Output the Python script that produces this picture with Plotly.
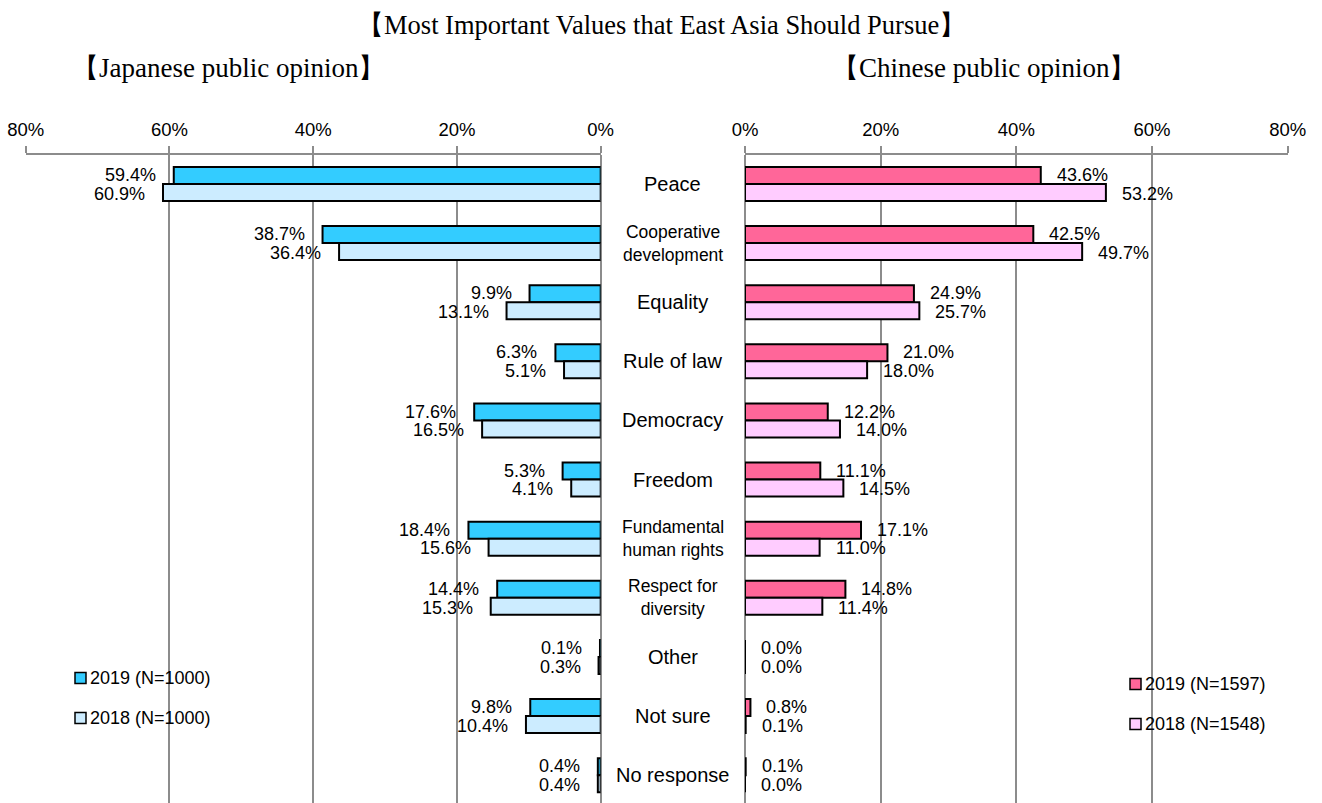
import plotly.graph_objects as go

W, H = 1322, 803

categories = ["Peace", "Cooperative<br>development", "Equality", "Rule of law",
              "Democracy", "Freedom", "Fundamental<br>human rights",
              "Respect for<br>diversity", "Other", "Not sure", "No response"]

japan_2019 = [59.4, 38.7, 9.9, 6.3, 17.6, 5.3, 18.4, 14.4, 0.1, 9.8, 0.4]
japan_2018 = [60.9, 36.4, 13.1, 5.1, 16.5, 4.1, 15.6, 15.3, 0.3, 10.4, 0.4]
china_2019 = [43.6, 42.5, 24.9, 21.0, 12.2, 11.1, 17.1, 14.8, 0.0, 0.8, 0.1]
china_2018 = [53.2, 49.7, 25.7, 18.0, 14.0, 14.5, 11.0, 11.4, 0.0, 0.1, 0.0]

tick_vals = [0, 20, 40, 60, 80]
tick_text = ["0%", "20%", "40%", "60%", "80%"]

legend_japan = ["2019 (N=1000)", "2018 (N=1000)"]
legend_china = ["2019 (N=1597)", "2018 (N=1548)"]

title_text = "【Most Important Values that East Asia Should Pursue】"
sub_japan = "【Japanese public opinion】"
sub_china = "【Chinese public opinion】"

C_JP19, C_JP18 = "#33CCFF", "#CCECFF"
C_CN19, C_CN18 = "#FF6699", "#FFCCFF"
GRID = "#8c8c8c"
SANS = "Liberation Sans, Arial, sans-serif"
SERIF = "Liberation Serif, Times New Roman, serif"

idx = list(range(len(categories)))

fig = go.Figure()
bar_line = dict(color="black", width=2)
fig.add_trace(go.Bar(y=idx, x=japan_2019, orientation="h", marker=dict(color=C_JP19, line=bar_line),
                     xaxis="x", yaxis="y", showlegend=False, hoverinfo="skip"))
fig.add_trace(go.Bar(y=idx, x=japan_2018, orientation="h", marker=dict(color=C_JP18, line=bar_line),
                     xaxis="x", yaxis="y", showlegend=False, hoverinfo="skip"))
fig.add_trace(go.Bar(y=idx, x=china_2019, orientation="h", marker=dict(color=C_CN19, line=bar_line),
                     xaxis="x2", yaxis="y2", showlegend=False, hoverinfo="skip"))
fig.add_trace(go.Bar(y=idx, x=china_2018, orientation="h", marker=dict(color=C_CN18, line=bar_line),
                     xaxis="x2", yaxis="y2", showlegend=False, hoverinfo="skip"))

axis_top = 155
y_top_frac = 1 - axis_top / H

x_common = dict(side="top", tickmode="array", tickvals=tick_vals, ticktext=tick_text,
                ticks="outside", ticklen=7, tickwidth=2, tickcolor=GRID,
                showline=True, linecolor=GRID, linewidth=2,
                showgrid=True, gridcolor=GRID, gridwidth=2,
                zeroline=True, zerolinecolor=GRID, zerolinewidth=2,
                automargin=False, ticklabelstandoff=3,
                tickfont=dict(family=SANS, size=18.5, color="black"), fixedrange=True)

y_common = dict(range=[10.47, -0.49], showticklabels=False, showgrid=False, zeroline=False,
                showline=False, ticks="", domain=[0, y_top_frac], automargin=False,
                fixedrange=True)

fig.update_layout(
    template="none",
    width=W, height=H, margin=dict(l=0, r=0, t=0, b=0, pad=0, autoexpand=False),
    paper_bgcolor="white", plot_bgcolor="white",
    barmode="group", bargap=0.424, bargroupgap=0,
    font=dict(family=SANS, size=18, color="black"),
    xaxis=dict(domain=[25.7 / W, 600.7 / W], range=[80, 0], anchor="y", **x_common),
    xaxis2=dict(domain=[745 / W, 1287.7 / W], range=[0, 80], anchor="y2", **x_common),
    yaxis=dict(anchor="x", **y_common),
    yaxis2=dict(anchor="x2", **y_common),
)

ann = []
# value labels next to each bar end, 2019 above and 2018 below
up, down = -0.15, 0.165
for i in idx:
    for vals, dy in ((japan_2019, up), (japan_2018, down)):
        ann.append(dict(x=vals[i], y=i + dy, xref="x", yref="y", text=f"{vals[i]:.1f}%",
                        showarrow=False, xanchor="right", yanchor="middle", xshift=-16,
                        font=dict(family=SANS, size=18)))
    for vals, dy in ((china_2019, up), (china_2018, down)):
        ann.append(dict(x=vals[i], y=i + dy, xref="x2", yref="y2", text=f"{vals[i]:.1f}%",
                        showarrow=False, xanchor="left", yanchor="middle", xshift=14,
                        font=dict(family=SANS, size=18)))

# category names between the two panels
for i, c in enumerate(categories):
    two_line = "<br>" in c
    ann.append(dict(x=672.5 / W, y=i, xref="paper", yref="y", text=c, showarrow=False,
                    xanchor="center", yanchor="middle",
                    font=dict(family=SANS, size=17.5 if two_line else 20)))

# titles
ann.append(dict(x=661.5 / W, y=1 - 25 / H, xref="paper", yref="paper", text=title_text,
                showarrow=False, xanchor="center", yanchor="middle",
                font=dict(family=SERIF, size=26.5)))
ann.append(dict(x=228.5 / W, y=1 - 68 / H, xref="paper", yref="paper", text=sub_japan,
                showarrow=False, xanchor="center", yanchor="middle",
                font=dict(family=SERIF, size=27)))
ann.append(dict(x=983.5 / W, y=1 - 68 / H, xref="paper", yref="paper", text=sub_china,
                showarrow=False, xanchor="center", yanchor="middle",
                font=dict(family=SERIF, size=27)))

# hand-placed legends for each panel
shapes = []
def legend_block(x0, y0s, colors, labels):
    for yc, col, lab in zip(y0s, colors, labels):
        shapes.append(dict(type="rect", xref="paper", yref="paper",
                           x0=x0 / W, x1=(x0 + 11) / W, y0=1 - (yc + 5.5) / H, y1=1 - (yc - 5.5) / H,
                           fillcolor=col, line=dict(color="black", width=1.5)))
        ann.append(dict(x=(x0 + 13) / W, y=1 - yc / H, xref="paper", yref="paper", text=lab,
                        showarrow=False, xanchor="left", yanchor="middle",
                        font=dict(family=SANS, size=18)))

legend_block(75, [678, 718], [C_JP19, C_JP18], legend_japan)
legend_block(1130, [684, 724], [C_CN19, C_CN18], legend_china)

fig.update_layout(annotations=ann, shapes=shapes)
fig.write_html("out.html")
